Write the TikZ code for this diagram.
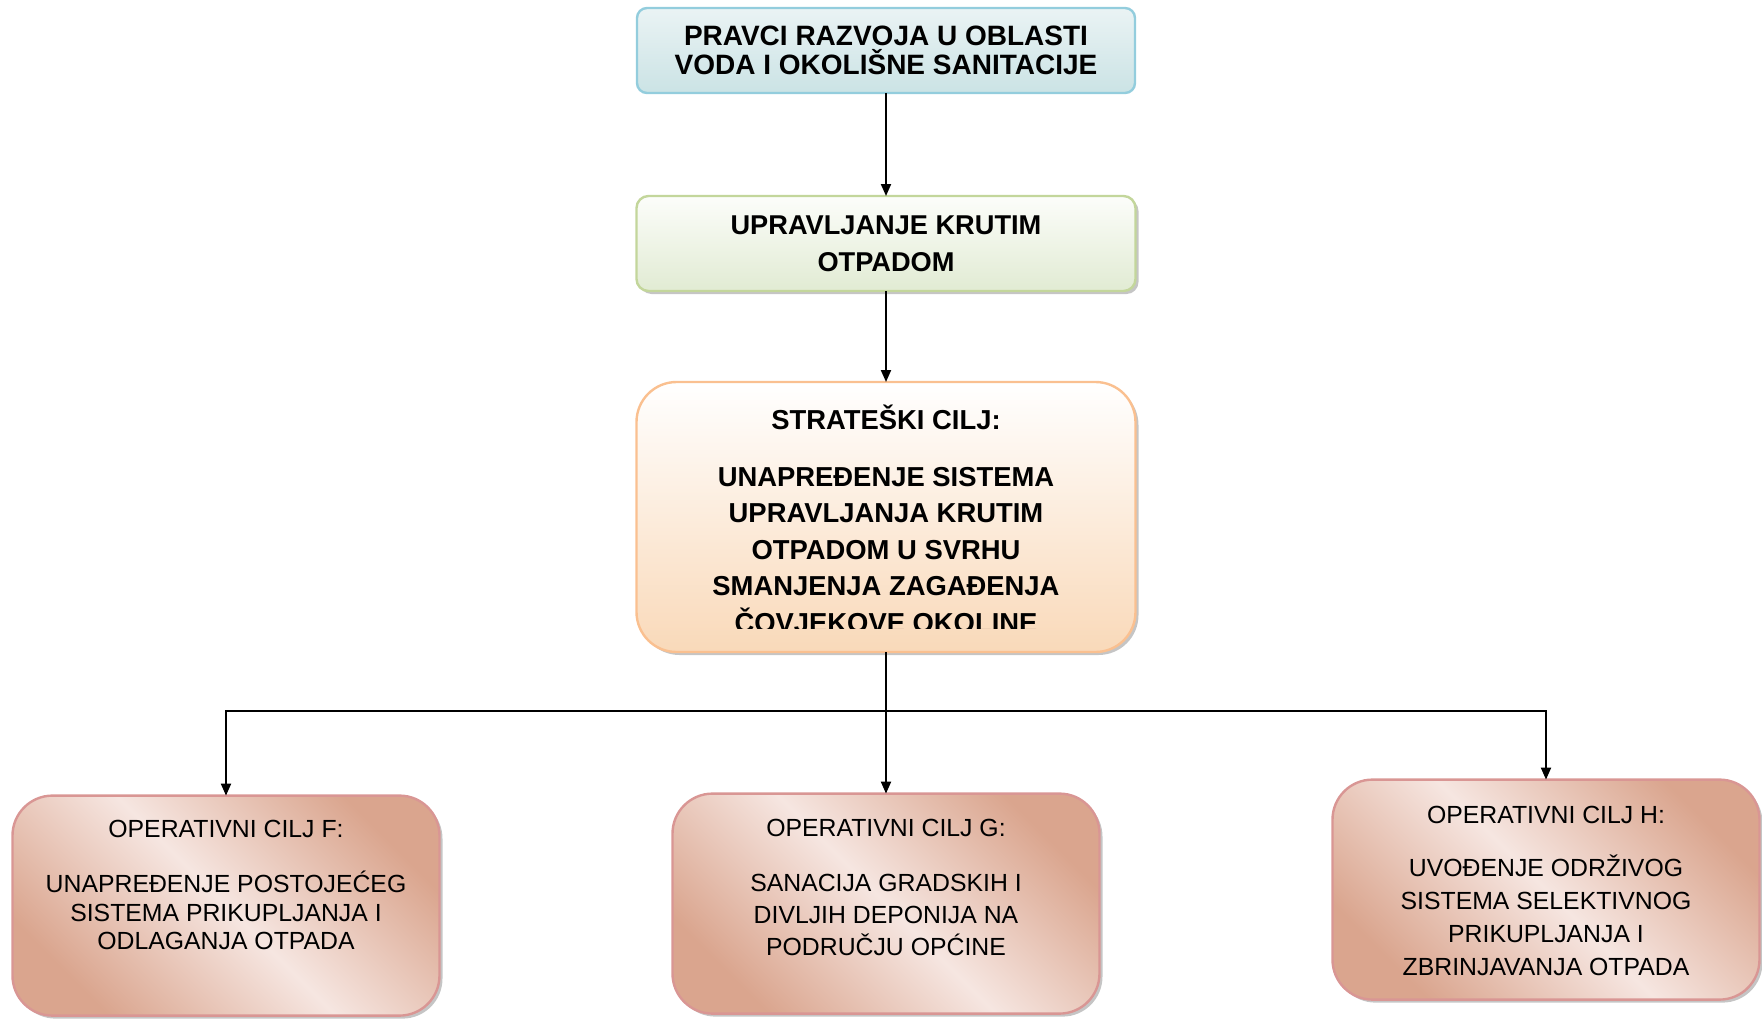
\documentclass[tikz,border=0pt]{standalone}
\usepackage{fontspec}
\setmainfont{Liberation Sans}
\usepackage{tikz}
\usetikzlibrary{positioning, shadows, arrows.meta}

\definecolor{tealline}{HTML}{93CDDD}
\definecolor{tealtop}{HTML}{EAF3F4}
\definecolor{tealbot}{HTML}{CBE3E5}
\definecolor{greenline}{HTML}{C3D69B}
\definecolor{greentop}{HTML}{FCFDFA}
\definecolor{greenbot}{HTML}{E1EBD3}
\definecolor{orangeline}{HTML}{FAC090}
\definecolor{orangetop}{HTML}{FFFFFF}
\definecolor{orangebot}{HTML}{F9D9B9}
\definecolor{roseline}{HTML}{D99694}
\definecolor{rosedark}{HTML}{DAA58E}
\definecolor{roselight}{HTML}{F6E6E1}

\tikzstyle{boxshadow} = [drop shadow={shadow xshift=1.5pt, shadow yshift=-1.5pt, fill=black!45, opacity=0.5}]
\tikzstyle{pravac} = [rectangle, rounded corners=5pt, minimum width=249pt, minimum height=42.5pt, inner sep=0pt, outer sep=0pt, align=center, draw=tealline, line width=1.2pt, top color=tealtop, bottom color=tealbot, font=\fontsize{14}{14.2}\selectfont\bfseries]
\tikzstyle{oblast} = [rectangle, rounded corners=6pt, minimum width=249.5pt, minimum height=47.5pt, inner sep=0pt, outer sep=0pt, align=center, draw=greenline, line width=1.2pt, top color=greentop, bottom color=greenbot, boxshadow, font=\fontsize{13.6}{18.3}\selectfont\bfseries]
\tikzstyle{strateski} = [rectangle, rounded corners=20pt, minimum width=249.5pt, minimum height=135pt, inner sep=0pt, outer sep=0pt, draw=orangeline, line width=1.2pt, top color=orangetop, bottom color=orangebot, boxshadow]
\tikzstyle{strattext} = [inner sep=0pt, align=center, font=\fontsize{13.7}{18.3}\selectfont\bfseries]
\tikzstyle{operativni} = [rectangle, rounded corners=20pt, minimum width=213.5pt, minimum height=110pt, inner sep=0pt, outer sep=0pt, draw=roseline, line width=1.2pt, left color=rosedark, right color=rosedark, middle color=roselight, shading angle=-45, boxshadow]
\tikzstyle{optext} = [inner sep=0pt, align=center]
\tikzstyle{arrow} = [line width=1pt, -{Triangle[length=6pt, width=5pt]}]

\begin{document}
\begin{tikzpicture}[x=0.5pt, y=-0.5pt]
   \useasboundingbox (0,0) rectangle (1762,1018);

   \node (pravci) [pravac] at (886,50.5) {PRAVCI RAZVOJA U OBLASTI\\VODA I OKOLIŠNE SANITACIJE};
   \node (otpad) [oblast, below=51.5pt of pravci] {UPRAVLJANJE KRUTIM\\OTPADOM};
   \node (strat) [strateski, below=45.5pt of otpad] {};
   \begin{scope}
      \clip (strat.north west) rectangle ([yshift=12pt]strat.south east);
      \node (strattxt) [strattext, below=11.3pt of strat.north] {STRATEŠKI CILJ:\\[10pt]UNAPREĐENJE SISTEMA\\UPRAVLJANJA KRUTIM\\OTPADOM U SVRHU\\SMANJENJA ZAGAĐENJA\\ČOVJEKOVE OKOLINE};
   \end{scope}

   \node (opf) [operativni, below=71.8pt of strat, xshift=-330pt] {};
   \node (opg) [operativni, below=70.8pt of strat] {};
   \node (oph) [operativni, below=63.8pt of strat, xshift=330pt] {};
   \node (opftxt) [optext, font=\fontsize{12.4}{14.2}\selectfont, below=12.3pt of opf.north] {OPERATIVNI CILJ F:\\[13.3pt]UNAPREĐENJE POSTOJEĆEG\\SISTEMA PRIKUPLJANJA I\\ODLAGANJA OTPADA};
   \node (opgtxt) [optext, font=\fontsize{12.4}{16}\selectfont, below=12.8pt of opg.north] {OPERATIVNI CILJ G:\\[11.3pt]SANACIJA GRADSKIH I\\DIVLJIH DEPONIJA NA\\PODRUČJU OPĆINE};
   \node (ophtxt) [optext, font=\fontsize{12.4}{16.5}\selectfont, below=13pt of oph.north] {OPERATIVNI CILJ H:\\[10.2pt]UVOĐENJE ODRŽIVOG\\SISTEMA SELEKTIVNOG\\PRIKUPLJANJA I\\ZBRINJAVANJA OTPADA};

   \coordinate (bus) at (886.5,711);

   \draw [arrow] (pravci) -- (otpad);
   \draw [arrow] (otpad) -- (strat);
   \draw [arrow] (strat.south) |- (bus) -| (opf.north);
   \draw [arrow] (strat.south) -- (opg.north);
   \draw [arrow] (strat.south) |- (bus) -| (oph.north);
\end{tikzpicture}
\end{document}
